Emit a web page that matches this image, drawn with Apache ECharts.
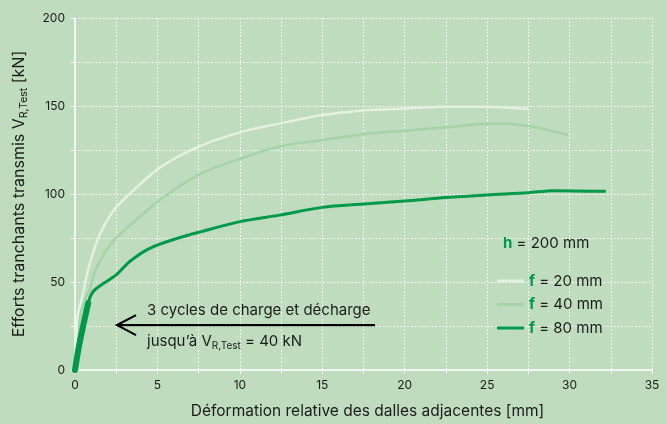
<!DOCTYPE html>
<html>
<head>
<meta charset="utf-8">
<script src="https://cdn.jsdelivr.net/npm/echarts@6/dist/echarts.min.js"></script>
<style>
html,body{margin:0;padding:0;background:#bfdcbe;}
#c{width:667px;height:424px;}
</style>
</head>
<body>
<div id="c"></div>
<script>
// Data (deformation mm, force kN)
var f20 = [[0,0],[0.15,30],[0.4,40],[0.85,59],[1.5,77],[2.3,90],[3.3,100],[5.15,115],[7.4,126.5],[10,135],[12.4,140],[15.1,145],[17.5,147.5],[20,148.6],[22.5,149.6],[25,149.6],[27.5,148.3]];
var f40 = [[0,0],[0.3,30],[0.6,40],[0.9,46],[1.3,58],[2.3,73],[3.5,83.5],[5.15,96.6],[7.4,110.5],[10,120],[12.4,127],[15,130.7],[17.5,134],[20,136],[22.5,137.9],[25.4,140],[27.5,138.6],[29.9,133.5]];
var f80 = [[0,0],[0.8,38],[1.1,44.5],[1.7,49],[2.5,54],[3.3,61.5],[4.5,69],[6.2,74.8],[7.6,78.5],[10,84.3],[12.4,88],[15,92.4],[17.5,94.3],[20,96],[22.5,98],[25,99.5],[27.5,100.7],[29,101.9],[32.2,101.5]];
var cycles = [[0,0],[0.25,14],[0.8,38]];
var seriesNames = ['f = 20 mm','f = 40 mm','f = 80 mm'];
var xTicks = [0,5,10,15,20,25,30,35];
var yTicks = [0,50,100,150,200];
var arrowFrom = [18.2,25.5];
var arrowTo = [2.55,25.5];

var FONT = 'Inter';
var TXT = '#1c1c1c';
var GREEN = '#00994a';
var chart = echarts.init(document.getElementById('c'), null, {renderer:'canvas'});

var option = {
  backgroundColor: '#bfdcbe',
  textStyle: {fontFamily: FONT, color: TXT},
  animation: false,
  grid: {left: 75, right: 15, top: 18, bottom: 54},
  title: {
    text: '{g|h} = 200 mm',
    left: 503, top: 236, padding: 0,
    textStyle: {fontFamily: FONT, fontSize: 15, fontWeight: 'normal', color: TXT,
      rich: {g: {color: GREEN, fontSize: 15, fontWeight: 'bold', fontFamily: FONT}}}
  },
  legend: {
    data: seriesNames,
    orient: 'vertical',
    left: 497, top: 273, padding: 0,
    itemWidth: 27, itemHeight: 3, itemGap: 7.5,
    icon: 'rect',
    formatter: function(n){ return n.replace('f', '{g|f}'); },
    textStyle: {fontFamily: FONT, fontSize: 15, color: TXT, lineHeight: 16,
      rich: {g: {color: GREEN, fontSize: 15, fontWeight: 'bold', fontFamily: FONT}}}
  },
  xAxis: {
    type: 'value', min: 0, max: 35, interval: 2.5,
    name: 'Déformation relative des dalles adjacentes [mm]',
    nameLocation: 'middle', nameGap: 33,
    nameTextStyle: {fontFamily: FONT, fontSize: 15.5, color: TXT, padding: [0,0,0,8]},
    axisLine: {lineStyle: {color: '#ffffff', width: 1.5}},
    axisTick: {show: true, length: 4, lineStyle: {color: '#ffffff'}},
    axisLabel: {fontSize: 12, color: TXT, margin: 9,
      formatter: function(v){ return xTicks.indexOf(v) >= 0 ? String(v) : ''; }},
    splitLine: {show: true, lineStyle: {color: '#ffffff', width: 1, type: [1.5,2]}}
  },
  yAxis: {
    type: 'value', min: 0, max: 200, interval: 25,
    name: 'Efforts tranchants transmis V{s|R,Test} [kN]',
    nameLocation: 'middle', nameGap: 46, nameRotate: 90,
    nameTextStyle: {fontFamily: FONT, fontSize: 16, color: TXT,
      rich: {s: {fontSize: 10.5, fontFamily: FONT, color: TXT, padding: [8,0,0,0]}}},
    axisLine: {show: true, lineStyle: {color: '#ffffff', width: 1.5}},
    axisTick: {show: true, length: 4, lineStyle: {color: '#ffffff'}},
    axisLabel: {fontSize: 12, color: TXT, margin: 10,
      formatter: function(v){ return yTicks.indexOf(v) >= 0 ? String(v) : ''; }},
    splitLine: {show: true, lineStyle: {color: '#ffffff', width: 1, type: [1.5,2]}}
  },
  color: ['#e6f0e2','#a4d3a6', GREEN],
  series: [
    {name: seriesNames[0], type: 'line', data: f20, smooth: 0.3, showSymbol: false, symbol: 'none',
      lineStyle: {width: 2.5, color: '#e6f0e2'}, itemStyle: {color: '#e6f0e2'}, z: 3},
    {name: seriesNames[1], type: 'line', data: f40, smooth: 0.3, showSymbol: false, symbol: 'none',
      lineStyle: {width: 2.5, color: '#a4d3a6'}, itemStyle: {color: '#a4d3a6'}, z: 2},
    {name: seriesNames[2], type: 'line', data: f80, smooth: 0.3, showSymbol: false, symbol: 'none',
      lineStyle: {width: 3, color: GREEN}, itemStyle: {color: GREEN}, z: 4},
    {name: 'cycles', type: 'line', data: cycles, smooth: 0.3, showSymbol: false, symbol: 'none',
      lineStyle: {width: 6, color: GREEN, cap: 'round'}, z: 5}
  ]
};
chart.setOption(option);

var p1 = chart.convertToPixel({gridIndex: 0}, arrowFrom);
var p2 = chart.convertToPixel({gridIndex: 0}, arrowTo);
chart.setOption({
  graphic: [
    {type: 'line', shape: {x1: p1[0], y1: p1[1], x2: p2[0], y2: p2[1]},
      style: {stroke: '#000', lineWidth: 2.2}, z: 10},
    {type: 'polyline', shape: {points: [[p2[0]+19, p2[1]-10],[p2[0], p2[1]],[p2[0]+19, p2[1]+10]]},
      style: {stroke: '#000', lineWidth: 2.2, fill: null}, z: 10},
    {type: 'text', left: 147, top: 303, z: 10,
      style: {text: '3 cycles de charge et décharge', font: '15px Inter', fill: TXT}},
    {type: 'text', left: 147, top: 334, z: 10,
      style: {text: 'jusqu’à V{s|R,Test} = 40 kN', font: '15px Inter', fill: TXT,
        rich: {s: {fontSize: 10, fontFamily: FONT, fill: TXT, padding: [8,0,0,0]}}}}
  ]
});
</script>
</body>
</html>
